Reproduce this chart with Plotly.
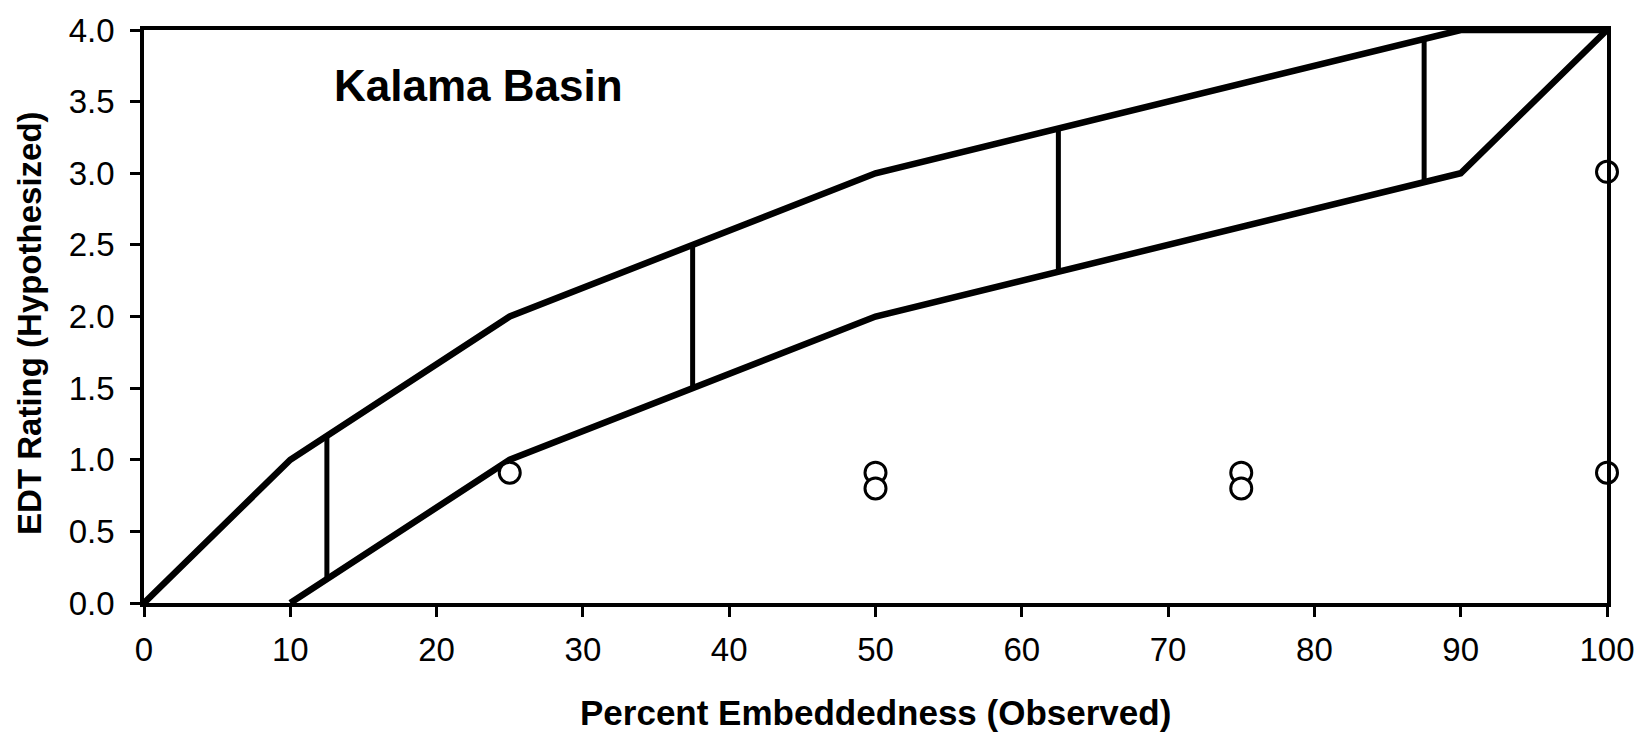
import plotly.graph_objects as go

# Upper and lower envelope of hypothesized EDT rating
upper_x = [0, 10, 25, 50, 90, 100]
upper_y = [0, 1.0, 2.0, 3.0, 4.0, 4.0]
lower_x = [10, 25, 50, 90, 100]
lower_y = [0, 1.0, 2.0, 3.0, 4.0]

# Vertical range bars
bar_x = [12.5, 37.5, 62.5, 87.5]
bar_low = [0.17, 1.5, 2.31, 2.94]
bar_high = [1.17, 2.5, 3.31, 3.94]

# Observed points
obs_x = [25, 50, 50, 75, 75, 100, 100]
obs_y = [0.91, 0.91, 0.80, 0.91, 0.80, 0.91, 3.01]

x_ticks = [0, 10, 20, 30, 40, 50, 60, 70, 80, 90, 100]
y_ticks = [0.0, 0.5, 1.0, 1.5, 2.0, 2.5, 3.0, 3.5, 4.0]
y_tick_text = ["0.0", "0.5", "1.0", "1.5", "2.0", "2.5", "3.0", "3.5", "4.0"]

FONT = "Liberation Sans, Arial, sans-serif"

W, H = 1648, 737
ML, MR, MT, MB = 144, 41, 24, 134


def px_x(p):
    return (p - ML) / (W - ML - MR)


def px_y(p):
    return (H - MB - p) / (H - MT - MB)


fig = go.Figure()

fig.add_trace(go.Scatter(x=upper_x, y=upper_y, mode="lines",
                         line=dict(color="black", width=6.5), cliponaxis=False,
                         showlegend=False, hoverinfo="skip"))
fig.add_trace(go.Scatter(x=lower_x, y=lower_y, mode="lines",
                         line=dict(color="black", width=6.5), cliponaxis=False,
                         showlegend=False, hoverinfo="skip"))

bx, by = [], []
for x, lo, hi in zip(bar_x, bar_low, bar_high):
    bx += [x, x, None]
    by += [lo, hi, None]
fig.add_trace(go.Scatter(x=bx, y=by, mode="lines",
                         line=dict(color="black", width=5),
                         showlegend=False, hoverinfo="skip"))

fig.add_trace(go.Scatter(x=obs_x, y=obs_y, mode="markers", cliponaxis=False,
                         marker=dict(symbol="circle", size=21, color="white",
                                     line=dict(color="black", width=3)),
                         showlegend=False))

fig.add_annotation(x=12.85, y=3.61, xref="x", yref="y", text="<b>Kalama Basin</b>",
                   showarrow=False, xanchor="left", yanchor="middle",
                   font=dict(family=FONT, size=44, color="black"))

fig.add_annotation(x=0.5, y=px_y(714), xref="paper", yref="paper",
                   text="<b>Percent Embeddedness (Observed)</b>", showarrow=False,
                   xanchor="center", yanchor="middle",
                   font=dict(family=FONT, size=35, color="black"))
fig.add_annotation(x=px_x(30), y=px_y(320), xref="paper", yref="paper",
                   text="<b>EDT Rating (Hypothesized)</b>", showarrow=False,
                   textangle=-90, xanchor="center", yanchor="middle",
                   font=dict(family=FONT, size=33, color="black"))

fig.update_xaxes(range=[0, 100], tickvals=x_ticks, ticks="outside", ticklen=10,
                 tickwidth=3, tickcolor="black", showline=True, linecolor="black",
                 linewidth=3.5, mirror=True, showgrid=False, zeroline=False,
                 tickfont=dict(family=FONT, size=33, color="black"),
                 ticklabelstandoff=5)
fig.update_yaxes(range=[0, 4], tickvals=y_ticks, ticktext=y_tick_text, ticks="outside",
                 ticklen=10, tickwidth=3, tickcolor="black", showline=True,
                 linecolor="black", linewidth=3.5, mirror=True, showgrid=False,
                 zeroline=False, tickfont=dict(family=FONT, size=33, color="black"),
                 ticklabelstandoff=9)

fig.update_layout(width=W, height=H, margin=dict(l=ML, r=MR, t=MT, b=MB),
                  plot_bgcolor="white", paper_bgcolor="white", showlegend=False)

fig.write_html("out.html")
